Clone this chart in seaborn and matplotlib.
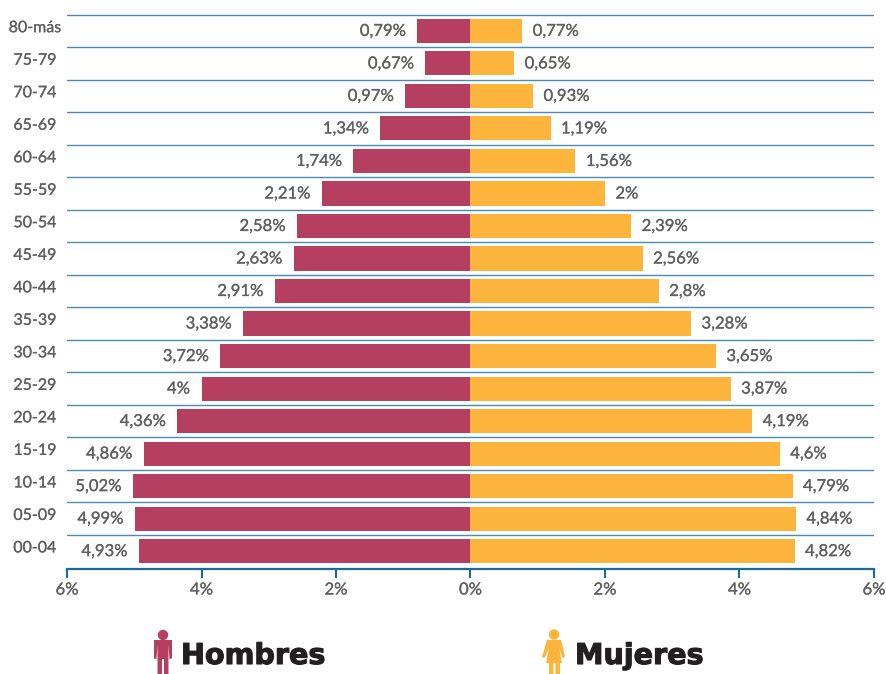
import matplotlib
matplotlib.use("Agg")
import matplotlib.pyplot as plt
import matplotlib.patheffects as pe
from matplotlib.patches import Circle, Polygon
from matplotlib.transforms import Affine2D, ScaledTranslation
import pandas as pd
import seaborn as sns

age_groups = ["80-más", "75-79", "70-74", "65-69", "60-64", "55-59", "50-54", "45-49", "40-44",
              "35-39", "30-34", "25-29", "20-24", "15-19", "10-14", "05-09", "00-04"]
hombres = [0.79, 0.67, 0.97, 1.34, 1.74, 2.21, 2.58, 2.63, 2.91, 3.38, 3.72, 4.00, 4.36, 4.86, 5.02, 4.99, 4.93]
mujeres = [0.77, 0.65, 0.93, 1.19, 1.56, 2.00, 2.39, 2.56, 2.80, 3.28, 3.65, 3.87, 4.19, 4.60, 4.79, 4.84, 4.82]
x_ticks = [-6, -4, -2, 0, 2, 4, 6]

MEN = "#B53F60"
WOMEN = "#FDB43C"
GRID = "#4A8AB3"
AXIS = "#1A6A9A"
TEXT = "#5F5F5F"

sns.set_theme(style="white")
plt.rcParams["font.family"] = ["Lato", "DejaVu Sans"]

W, H = 887, 674
fig = plt.figure(figsize=(W / 100, H / 100), dpi=100, facecolor="white")
ax = fig.add_axes([67 / W, 1 - 569 / H, (874 - 67) / W, (569 - 14) / H])

df = pd.DataFrame({
    "edad": age_groups * 2,
    "valor": [-v for v in hombres] + mujeres,
    "sexo": ["Hombres"] * len(age_groups) + ["Mujeres"] * len(age_groups),
})
sns.barplot(data=df, y="edad", x="valor", hue="sexo", order=age_groups, hue_order=["Hombres", "Mujeres"],
            palette={"Hombres": MEN, "Mujeres": WOMEN}, dodge=False, width=0.74, saturation=1,
            legend=False, orient="h", ax=ax, zorder=3, errorbar=None, linewidth=0, edgecolor="none")

ax.set_xlim(-6, 6)
ax.set_ylim(16.55, -0.52)
ax.set_xlabel("")
ax.set_ylabel("")

soft = [pe.withStroke(linewidth=0.15, foreground=TEXT)]


def fmt(v):
    s = f"{v:.2f}".rstrip("0").rstrip(".")
    return s.replace(".", ",") + "%"


for lab in ax.bar_label(ax.containers[0], labels=[fmt(v) for v in hombres], padding=8.3, fontsize=12, color=TEXT):
    lab.set_path_effects(soft)
for lab in ax.bar_label(ax.containers[1], labels=[fmt(v) for v in mujeres], padding=7.5, fontsize=12, color=TEXT):
    lab.set_path_effects(soft)

for i in range(len(age_groups)):
    ax.axhline(i - 0.5, color=GRID, lw=1.0, zorder=1)

for side in ["top", "left", "right"]:
    ax.spines[side].set_visible(False)
ax.spines["bottom"].set_color(AXIS)
ax.spines["bottom"].set_linewidth(1.6)
ax.spines["bottom"].set_zorder(5)

ax.set_xticks(x_ticks)
ax.set_xticklabels([f"{abs(t)}%" for t in x_ticks], fontsize=12, color=TEXT)
ax.tick_params(axis="x", bottom=True, length=6.5, width=1.5, color=AXIS, pad=2.5)
for lab in ax.get_xticklabels():
    lab.set_path_effects(soft)
ax.tick_params(axis="y", left=False, pad=17, labelsize=11.5, labelcolor=TEXT)
offset = ScaledTranslation(0, 3.0 / 72, fig.dpi_scale_trans)
for lab in ax.get_yticklabels():
    lab.set_ha("center")
    lab.set_transform(lab.get_transform() + offset)
    lab.set_path_effects(soft)

# Legend: pictograms and names, placed in pixel coordinates from the top-left corner
px = Affine2D().scale(1, -1).translate(0, H)


def add_shape(shape):
    shape.set_transform(px)
    fig.add_artist(shape)


add_shape(Circle((163, 635), 5.2, fc=MEN, ec="none"))
add_shape(Polygon([(154, 640), (172, 640), (172, 658.5), (169.5, 659), (168.5, 645), (168.5, 674),
                   (164, 674), (164, 659), (162, 659), (162, 674), (157.5, 674), (157.5, 645),
                   (156.5, 659), (154, 658.5)], closed=True, fc=MEN, ec="none"))
add_shape(Circle((554, 634.5), 5.2, fc=WOMEN, ec="none"))
add_shape(Polygon([(547, 640), (561, 640), (565, 657), (562.5, 658), (559, 648), (562, 663), (560, 663),
                   (560, 674), (555.5, 674), (555.5, 663), (553.5, 663), (553.5, 674), (549, 674),
                   (549, 663), (546, 663), (549, 648), (544.5, 658), (542, 657)], closed=True, fc=WOMEN, ec="none"))

for x, name in [(181, "Hombres"), (575, "Mujeres")]:
    fig.text(x / W, 1 - 664 / H, name, fontsize=20.6, fontweight="bold", color="#231F20",
             family="DejaVu Sans", ha="left", va="baseline",
             path_effects=[pe.withStroke(linewidth=0.8, foreground="#231F20")])

fig.savefig("out.png", dpi=100)
